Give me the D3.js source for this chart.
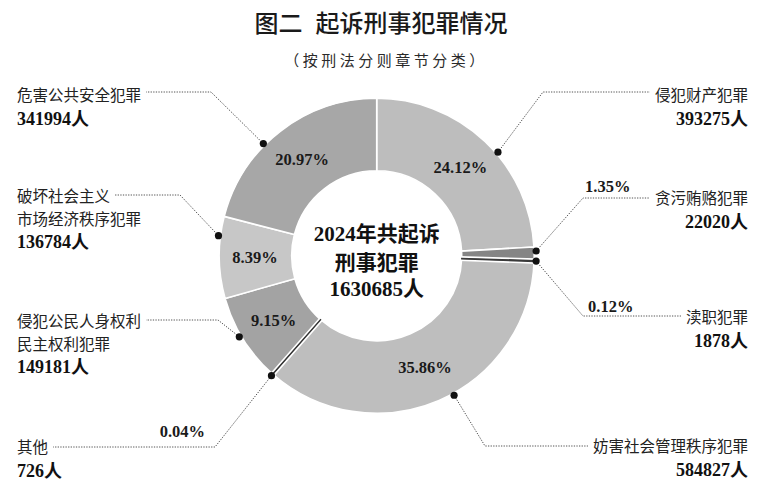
<!DOCTYPE html>
<html>
<head>
<meta charset="utf-8">
<script src="https://cdn.jsdelivr.net/npm/d3@7"></script>
<style>
  html, body { margin: 0; padding: 0; background: #fff; }
  svg { display: block; }
</style>
</head>
<body>
<svg id="chart" width="768" height="500"></svg>
<script>
// ---- data ----
const categories = ["侵犯财产犯罪", "贪污贿赂犯罪", "渎职犯罪", "妨害社会管理秩序犯罪", "其他", "侵犯公民人身权利民主权利犯罪", "破坏社会主义市场经济秩序犯罪", "危害公共安全犯罪"];
const labelLines = [["侵犯财产犯罪"], ["贪污贿赂犯罪"], ["渎职犯罪"], ["妨害社会管理秩序犯罪"], ["其他"], ["侵犯公民人身权利", "民主权利犯罪"], ["破坏社会主义", "市场经济秩序犯罪"], ["危害公共安全犯罪"]];
const counts = [393275, 22020, 1878, 584827, 726, 149181, 136784, 341994];
const percents = ["24.12%", "1.35%", "0.12%", "35.86%", "0.04%", "9.15%", "8.39%", "20.97%"];
const totalCount = 1630685;
const titleText = ["图二", "起诉刑事犯罪情况"];
const subtitleText = "（按刑法分则章节分类）";
const centerLines = ["2024年共起诉", "刑事犯罪"];
const sliceColors = ["#bdbdbd", "#858585", "#3a3a3a", "#bebebe", "#333333", "#a3a3a3", "#c7c7c7", "#a7a7a7"];

// ---- layout (annotation placement) ----
const layout = [
  { side: "R", base: 101, elbow: [543, 92],  f: 0.57 },
  { side: "R", base: 204, elbow: [583, 198], f: 0.30, pct: [2, -6, "start"] },
  { side: "R", base: 323, elbow: [583, 316], f: 0.50, pct: [5, -4, "start"] },
  { side: "R", base: 452, elbow: [485, 446], f: 0.456 },
  { side: "L", base: 453, elbow: [215, 447], f: 0.50, pct: [-10, -10, "end"] },
  { side: "L", base: 327, elbow: [218, 320], f: 0.55 },
  { side: "L", base: 202, elbow: [180, 195], f: 0.76 },
  { side: "L", base: 101, elbow: [211, 92],  f: 0.40 }
];

const W = 768, H = 500;
const cx = 376.7, cy = 255.8, R = 157.5, r0 = 85;
const cjk = "'Noto Sans CJK SC', 'Noto Sans', sans-serif";
const serifNum = "'Liberation Serif', 'DejaVu Serif', 'Noto Sans CJK SC', serif";

const svg = d3.select("#chart");

// title
const title = svg.append("text")
  .attr("x", W / 2 - 3).attr("y", 32)
  .attr("text-anchor", "middle")
  .style("font-family", cjk).style("font-size", "24px").style("font-weight", 500)
  .style("fill", "#1a1a1a");
title.append("tspan").text(titleText[0]);
title.append("tspan").attr("dx", 13).text(titleText[1]);

svg.append("text")
  .attr("x", W / 2 + 2).attr("y", 66)
  .attr("text-anchor", "middle")
  .style("font-family", cjk).style("font-size", "15px").style("letter-spacing", "3.5px")
  .style("fill", "#2a2a2a")
  .text(subtitleText);

// pie
const pie = d3.pie().sort(null).value(d => d).startAngle(0).endAngle(2 * Math.PI);
const arcs = pie(counts);
const arc = d3.arc().innerRadius(r0).outerRadius(R);

const g = svg.append("g").attr("transform", `translate(${cx},${cy})`);
const tiny = d => (d.endAngle - d.startAngle) < 0.01;

g.selectAll("path.big").data(arcs.filter(d => !tiny(d)))
  .join("path").attr("class", "big")
  .attr("d", arc)
  .attr("fill", d => sliceColors[d.index])
  .attr("stroke", "#fff").attr("stroke-width", 1.6);

// tiny slices: white gap then dark sliver
const tinyArcs = arcs.filter(tiny);
g.selectAll("path.tinybg").data(tinyArcs)
  .join("path").attr("class", "tinybg")
  .attr("d", arc).attr("fill", "#fff").attr("stroke", "#fff").attr("stroke-width", 4.5);
g.selectAll("path.tinyfg").data(tinyArcs)
  .join("path").attr("class", "tinyfg")
  .attr("d", arc).attr("fill", d => sliceColors[d.index])
  .attr("stroke", d => sliceColors[d.index]).attr("stroke-width", 1.1);

// in-slice percentages
const labelArc = d3.arc().innerRadius((r0 + R) / 2 + 0.5).outerRadius((r0 + R) / 2 + 0.5);
g.selectAll("text.pct").data(arcs.filter(d => !layout[d.index].pct))
  .join("text").attr("class", "pct")
  .attr("transform", d => `translate(${labelArc.centroid(d)})`)
  .attr("text-anchor", "middle").attr("dy", "0.35em")
  .style("font-family", serifNum).style("font-size", "16.5px").style("font-weight", "bold")
  .style("fill", "#1a1a1a")
  .text(d => percents[d.index]);

// center text
const centerG = svg.append("g").style("font-family", serifNum).style("font-size", "21px")
  .style("font-weight", "bold").style("fill", "#111").attr("text-anchor", "middle");
centerG.append("text").attr("x", cx).attr("y", 241).text(centerLines[0]);
centerG.append("text").attr("x", cx).attr("y", 270).text(centerLines[1]);
centerG.append("text").attr("x", cx).attr("y", 296).text(d3.format("d")(totalCount) + "人");

// annotations
const ann = svg.append("g");
arcs.forEach(d => {
  const L = layout[d.index];
  const ang = d.startAngle + (d.endAngle - d.startAngle) * L.f;
  const dotR = R + 2;
  const dot = [cx + dotR * Math.sin(ang), cy - dotR * Math.cos(ang)];
  const right = L.side === "R";
  const tx = right ? 748 : 17;
  const anchor = right ? "end" : "start";

  const lines = labelLines[d.index];
  let firstW = 0;
  lines.forEach((ln, i) => {
    const t = ann.append("text")
      .attr("x", tx).attr("y", L.base + i * 22.5)
      .attr("text-anchor", anchor)
      .style("font-family", cjk).style("font-size", "15.5px").style("fill", "#222")
      .text(ln);
    if (i === 0) firstW = t.node().getComputedTextLength();
  });
  ann.append("text")
    .attr("x", tx).attr("y", L.base + (lines.length - 1) * 22.5 + 23.5)
    .attr("text-anchor", anchor)
    .style("font-family", serifNum).style("font-size", "18px").style("font-weight", "bold")
    .style("fill", "#111")
    .text(d3.format("d")(counts[d.index]) + "人");

  const hEnd = right ? tx - firstW - 5 : tx + firstW + 5;
  const pts = [dot, L.elbow, [hEnd, L.elbow[1]]];
  ann.append("path")
    .attr("d", d3.line()(pts))
    .attr("fill", "none").attr("stroke", "#555").attr("stroke-width", 1)
    .attr("stroke-dasharray", "1.3 1.3");
  ann.append("circle").attr("cx", dot[0]).attr("cy", dot[1]).attr("r", 3.6).attr("fill", "#111");

  if (L.pct) {
    ann.append("text")
      .attr("x", L.elbow[0] + L.pct[0]).attr("y", L.elbow[1] + L.pct[1])
      .attr("text-anchor", L.pct[2])
      .style("font-family", serifNum).style("font-size", "16.5px").style("font-weight", "bold")
      .style("fill", "#1a1a1a")
      .text(percents[d.index]);
  }
});
</script>
</body>
</html>
